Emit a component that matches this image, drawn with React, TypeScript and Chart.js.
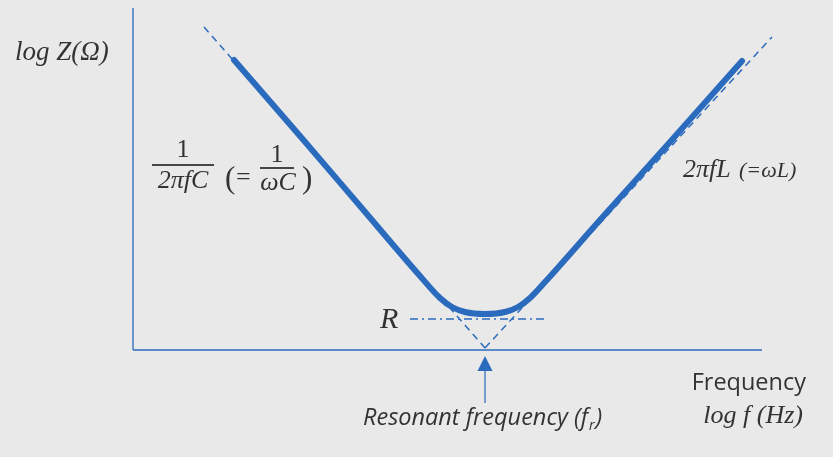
import React, { useEffect, useRef } from 'react';
import { Chart, registerables } from 'chart.js';

Chart.register(...registerables);

// units: x = log f (resonance at 0), y = log Z
const curveF = [-2.51, -1.85, -1.25, -0.65, -0.45, -0.33, -0.2, 0, 0.2, 0.33, 0.45, 0.6, 1.15, 1.85, 2.57];
const curveZ = [2.9, 2.14, 1.44, 0.74, 0.52, 0.43, 0.38, 0.36, 0.38, 0.43, 0.52, 0.68, 1.3, 2.08, 2.89];

const capF = [-2.81, 0];
const capZ = [3.23, 0.02];
const indF = [0, 2.87];
const indZ = [0.02, 3.13];

const rF = [-0.75, 0.63];
const rZ = [0.31, 0.31];

const yAxisF = [-3.52, -3.52];
const yAxisZ = [0, 3.42];
const xAxisF = [-3.52, 2.77];
const xAxisZ = [0, 0];

const resonantF = 0;

const BLUE = '#2b6bbd';
const TEXT = '#333333';
const SERIF = '"Liberation Serif", "DejaVu Serif", serif';
const SANS = '"Open Sans", Lato, sans-serif';

const pts = (xs: number[], ys: number[]) => xs.map((x, i) => ({ x, y: ys[i] }));

const labelsPlugin = {
  id: 'labels',
  afterDatasetsDraw(chart: Chart) {
    const ctx = chart.ctx;
    const xs = chart.scales.x;
    const ys = chart.scales.y;
    ctx.save();
    ctx.fillStyle = TEXT;
    ctx.textBaseline = 'alphabetic';

    // y axis title
    ctx.font = `italic 27px ${SERIF}`;
    ctx.textAlign = 'left';
    ctx.fillText('log Z(Ω)', 15, 60);

    // 1/(2πfC) (= 1/ωC)
    ctx.strokeStyle = '#111';
    ctx.lineWidth = 1.6;
    ctx.beginPath();
    ctx.moveTo(152, 165);
    ctx.lineTo(214, 165);
    ctx.moveTo(260, 168);
    ctx.lineTo(294, 168);
    ctx.stroke();
    ctx.textAlign = 'center';
    ctx.font = `26px ${SERIF}`;
    ctx.fillText('1', 183, 157);
    ctx.fillText('1', 277, 162);
    ctx.font = `italic 26px ${SERIF}`;
    ctx.fillText('2πfC', 183, 188);
    ctx.fillText('ωC', 278, 190);
    ctx.textAlign = 'left';
    ctx.font = `31px ${SERIF}`;
    ctx.fillText('(', 225, 188);
    ctx.fillText(')', 302, 188);
    ctx.font = `26px ${SERIF}`;
    ctx.fillText('=', 236, 185);

    // 2πfL (=ωL)
    ctx.font = `italic 26px ${SERIF}`;
    ctx.fillText('2πfL', 683, 177);
    ctx.font = `italic 22px ${SERIF}`;
    ctx.fillText('(=ωL)', 739, 177);

    // R
    ctx.font = `italic 30px ${SERIF}`;
    ctx.fillText('R', 380, 328);

    // x axis title
    ctx.textAlign = 'right';
    ctx.font = `23.5px ${SANS}`;
    ctx.fillText('Frequency', 806, 390);
    ctx.font = `italic 26px ${SERIF}`;
    ctx.fillText('log f (Hz)', 803, 423);

    // arrow to resonance
    const ax = xs.getPixelForValue(resonantF);
    const tip = ys.getPixelForValue(0) + 6;
    ctx.strokeStyle = BLUE;
    ctx.fillStyle = BLUE;
    ctx.lineWidth = 1.2;
    ctx.beginPath();
    ctx.moveTo(ax, tip + 12);
    ctx.lineTo(ax, tip + 47);
    ctx.stroke();
    ctx.beginPath();
    ctx.moveTo(ax, tip);
    ctx.lineTo(ax - 7.5, tip + 15);
    ctx.lineTo(ax + 7.5, tip + 15);
    ctx.closePath();
    ctx.fill();

    ctx.fillStyle = TEXT;
    ctx.textAlign = 'left';
    ctx.font = `italic 23.5px ${SANS}`;
    const main = 'Resonant frequency (f';
    ctx.fillText(main, 363, 425);
    const w = ctx.measureText(main).width;
    ctx.font = `italic 14px ${SANS}`;
    ctx.fillText('r', 363 + w + 1, 430);
    const w2 = ctx.measureText('r').width;
    ctx.font = `italic 23.5px ${SANS}`;
    ctx.fillText(')', 363 + w + w2 + 2, 425);
    ctx.restore();
  },
};

export default function App() {
  const canvasRef = useRef<HTMLCanvasElement>(null);
  const chartRef = useRef<Chart | null>(null);

  useEffect(() => {
    document.body.style.margin = '0';
    if (!canvasRef.current) return;
    if (chartRef.current) chartRef.current.destroy();

    const thin = { pointRadius: 0, fill: false, tension: 0 };

    chartRef.current = new Chart(canvasRef.current, {
      type: 'line',
      data: {
        datasets: [
          { ...thin, data: pts(yAxisF, yAxisZ), borderColor: BLUE, borderWidth: 1.3 },
          { ...thin, data: pts(xAxisF, xAxisZ), borderColor: BLUE, borderWidth: 1.3 },
          { ...thin, data: pts(capF, capZ), borderColor: BLUE, borderWidth: 1.5, borderDash: [7, 5] },
          { ...thin, data: pts(indF, indZ), borderColor: BLUE, borderWidth: 1.5, borderDash: [7, 5] },
          { ...thin, data: pts(rF, rZ), borderColor: BLUE, borderWidth: 1.5, borderDash: [8, 4, 2, 4] },
          {
            data: pts(curveF, curveZ),
            borderColor: BLUE,
            borderWidth: 6,
            borderCapStyle: 'round',
            borderJoinStyle: 'round',
            pointRadius: 0,
            fill: false,
            cubicInterpolationMode: 'monotone',
          },
        ],
      },
      options: {
        responsive: false,
        animation: false,
        layout: { padding: 0 },
        plugins: { legend: { display: false }, tooltip: { enabled: false } },
        scales: {
          x: { type: 'linear', display: false, min: -4.85, max: 3.48 },
          y: { type: 'linear', display: false, min: -1.07, max: 3.5 },
        },
      },
      plugins: [labelsPlugin],
    });

    return () => {
      if (chartRef.current) {
        chartRef.current.destroy();
        chartRef.current = null;
      }
    };
  }, []);

  return (
    <div style={{ width: 833, height: 457, background: '#e9e9e9' }}>
      <canvas ref={canvasRef} width={833} height={457} style={{ display: 'block' }}></canvas>
    </div>
  );
}
